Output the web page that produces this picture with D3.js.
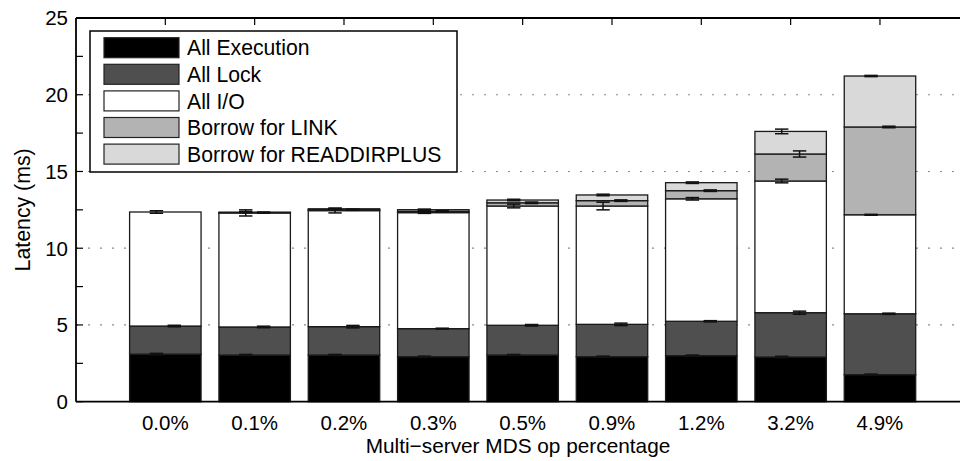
<!DOCTYPE html>
<html>
<head>
<meta charset="utf-8">
<script src="https://cdn.jsdelivr.net/npm/d3@7"></script>
<style>
  html, body { margin: 0; padding: 0; background: #fff; }
  svg { display: block; font-family: "Liberation Sans", Arial, Helvetica, sans-serif; }
</style>
</head>
<body>
<svg id="chart" width="960" height="461"></svg>
<script>
// ---- data ----
const categories = ["0.0%", "0.1%", "0.2%", "0.3%", "0.5%", "0.9%", "1.2%", "3.2%", "4.9%"];
const seriesNames = ["All Execution", "All Lock", "All I/O", "Borrow for LINK", "Borrow for READDIRPLUS"];
const execution = [3.10, 3.04, 3.04, 2.93, 3.04, 2.93, 3.00, 2.91, 1.76];
const lock      = [1.83, 1.83, 1.85, 1.83, 1.94, 2.11, 2.24, 2.89, 3.97];
const io        = [7.43, 7.43, 7.56, 7.56, 7.77, 7.71, 7.98, 8.58, 6.45];
const link      = [0.00, 0.02, 0.06, 0.08, 0.21, 0.35, 0.53, 1.76, 5.72];
const readdir   = [0.00, 0.03, 0.06, 0.11, 0.18, 0.37, 0.52, 1.47, 3.32];
const executionErr = [0.05, 0.04, 0.04, 0.04, 0.04, 0.04, 0.04, 0.05, 0.04];
const lockErr      = [0.05, 0.05, 0.08, 0.03, 0.05, 0.08, 0.04, 0.10, 0.04];
const ioErr        = [0.08, 0.20, 0.15, 0.05, 0.12, 0.25, 0.08, 0.12, 0.03];
const linkErr      = [0.00, 0.04, 0.04, 0.04, 0.05, 0.05, 0.05, 0.20, 0.05];
const readdirErr   = [0.00, 0.04, 0.04, 0.04, 0.05, 0.05, 0.05, 0.15, 0.04];
const yTickLabels = [0, 5, 10, 15, 20, 25];
const yMinorTicks = [0, 2.5, 5, 7.5, 10, 12.5, 15, 17.5, 20, 22.5, 25];
const gridValues = [5, 10, 15, 20];
const colors = ["#000000", "#4f4f4f", "#ffffff", "#b3b3b3", "#d9d9d9"];

// ---- build table ----
const keys = ["execution", "lock", "io", "link", "readdir"];
const seriesArrays = [execution, lock, io, link, readdir];
const errArrays = [executionErr, lockErr, ioErr, linkErr, readdirErr];
const table = categories.map((c, i) => {
  const row = { cat: c, idx: i };
  keys.forEach((k, j) => row[k] = seriesArrays[j][i]);
  return row;
});

// ---- scales ----
const svg = d3.select("#chart");
const x = d3.scaleLinear().domain([0, 10]).range([76, 969.3]);
const y = d3.scaleLinear().domain([0, 25]).range([401.7, 18]);
const barW = x(0.8) - x(0);

// ---- gridlines ----
svg.append("g").selectAll("line").data(gridValues).join("line")
  .attr("x1", x(0)).attr("x2", 960)
  .attr("y1", d => y(d)).attr("y2", d => y(d))
  .attr("stroke", "#8a8a8a").attr("stroke-width", 1.2)
  .attr("stroke-dasharray", "2,10");

// ---- stacked bars ----
const stacked = d3.stack().keys(keys)(table);
const barsG = svg.append("g");
stacked.forEach((layer, j) => {
  barsG.append("g").selectAll("rect").data(layer).join("rect")
    .attr("x", d => x(d.data.idx + 1) - barW / 2)
    .attr("width", barW)
    .attr("y", d => y(d[1]))
    .attr("height", d => Math.max(0, y(d[0]) - y(d[1])))
    .attr("fill", colors[j])
    .attr("stroke", "#1a1a1a")
    .attr("stroke-width", 1.3);
});

// ---- error bars ----
const offsets = [-0.1, 0.1, -0.1, 0.1, -0.1];
const capHalf = 0.075;
const errG = svg.append("g").attr("stroke", "#111").attr("stroke-width", 1.5);
stacked.forEach((layer, j) => {
  layer.forEach((d, i) => {
    const e = errArrays[j][i];
    if (seriesArrays[j][i] <= 0) return;
    const cx = d.data.idx + 1 + offsets[j];
    const top = d[1];
    errG.append("line").attr("x1", x(cx)).attr("x2", x(cx))
      .attr("y1", y(top - e)).attr("y2", y(top + e));
    [top - e, top + e].forEach(v => {
      errG.append("line")
        .attr("x1", x(cx - capHalf)).attr("x2", x(cx + capHalf))
        .attr("y1", y(v)).attr("y2", y(v));
    });
  });
});

// ---- axes frame ----
const axG = svg.append("g").attr("stroke", "#000").attr("stroke-width", 1.8);
axG.append("line").attr("x1", x(0)).attr("x2", 960).attr("y1", y(0)).attr("y2", y(0));
axG.append("line").attr("x1", x(0)).attr("x2", 960).attr("y1", y(25)).attr("y2", y(25));
axG.append("line").attr("x1", x(0)).attr("x2", x(0)).attr("y1", y(0)).attr("y2", y(25));

// left ticks (inward)
svg.append("g").selectAll("line").data(yMinorTicks).join("line")
  .attr("x1", x(0)).attr("x2", x(0) + 7)
  .attr("y1", d => y(d)).attr("y2", d => y(d))
  .attr("stroke", "#000").attr("stroke-width", 1.2);

// top ticks at bar centers (inward)
svg.append("g").selectAll("line").data(categories).join("line")
  .attr("x1", (d, i) => x(i + 1)).attr("x2", (d, i) => x(i + 1))
  .attr("y1", y(25)).attr("y2", y(25) + 7)
  .attr("stroke", "#000").attr("stroke-width", 1.2);

// y tick labels
svg.append("g").selectAll("text").data(yTickLabels).join("text")
  .attr("x", x(0) - 8).attr("y", d => y(d))
  .attr("dy", "0.36em")
  .attr("text-anchor", "end")
  .attr("font-size", 20.5)
  .text(d => d);

// x tick labels
svg.append("g").selectAll("text").data(categories).join("text")
  .attr("x", (d, i) => x(i + 1)).attr("y", 430)
  .attr("text-anchor", "middle")
  .attr("font-size", 20.5)
  .text(d => d);

// axis titles
svg.append("text")
  .attr("x", 518).attr("y", 453)
  .attr("text-anchor", "middle").attr("font-size", 20.8)
  .text("Multi\u2212server MDS op percentage");

svg.append("text")
  .attr("transform", `translate(29.5, ${(y(0) + y(25)) / 2}) rotate(-90)`)
  .attr("text-anchor", "middle").attr("font-size", 21.3)
  .text("Latency (ms)");

// ---- legend ----
const lg = svg.append("g");
lg.append("rect").attr("x", 90).attr("y", 31).attr("width", 367).attr("height", 141)
  .attr("fill", "#fff").attr("stroke", "#000").attr("stroke-width", 1.5);
seriesNames.forEach((name, j) => {
  const cy = 47.7 + j * 26.6;
  lg.append("rect").attr("x", 104).attr("y", cy - 10).attr("width", 75).attr("height", 20)
    .attr("fill", colors[j]).attr("stroke", "#222").attr("stroke-width", 1.2);
  lg.append("text").attr("x", 187).attr("y", cy).attr("dy", "0.36em")
    .attr("font-size", 21.2).text(name);
});
</script>
</body>
</html>
